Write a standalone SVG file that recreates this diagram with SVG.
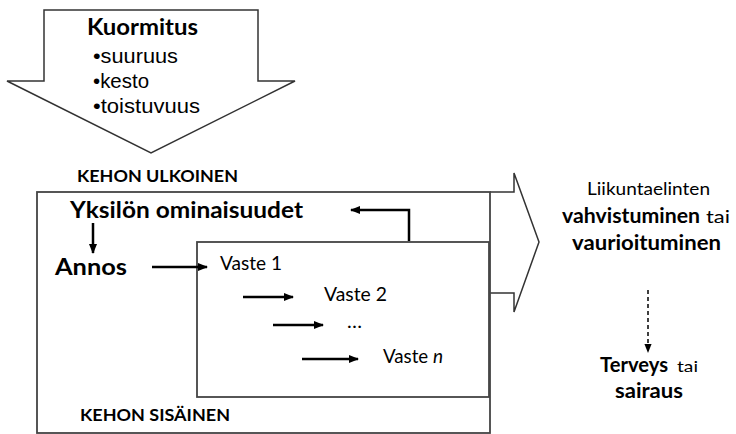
<svg xmlns="http://www.w3.org/2000/svg" width="736" height="434" viewBox="0 0 736 434">
<defs>
<marker id="ah" viewBox="0 0 10 10" refX="9" refY="5" markerWidth="4" markerHeight="4" orient="auto" markerUnits="strokeWidth">
<path d="M0,1 L10,5 L0,9 z" fill="#000"/>
</marker>
<marker id="ahs" viewBox="0 0 10 10" refX="9" refY="5" markerWidth="6" markerHeight="6" orient="auto" markerUnits="strokeWidth">
<path d="M0,1 L10,5 L0,9 z" fill="#000"/>
</marker>
</defs>
<style>
.shape{fill:#fff;stroke:#333;stroke-width:1.5}
.box{fill:none;stroke:#444;stroke-width:1.8}
.arr{fill:none;stroke:#000;stroke-width:2.5;marker-end:url(#ah)}
.b{font-family:Lato,"Open Sans",sans-serif;font-weight:bold;fill:#000}
.r{font-family:Lato,"Open Sans",sans-serif;fill:#000}
.a{font-family:"Liberation Sans",Arial,sans-serif;fill:#000;font-size:21px}
</style>
<g id="kuormitus">
<path class="shape" d="M44,10 L258,10 L258,81 L295,81 L151,153 L7,81 L44,81 Z"/>
<text class="b" x="87" y="35" font-size="22" textLength="111" lengthAdjust="spacingAndGlyphs">Kuormitus</text>
<text class="a" x="93" y="63" textLength="85" lengthAdjust="spacingAndGlyphs">•suuruus</text>
<text class="a" x="93" y="88" textLength="56" lengthAdjust="spacingAndGlyphs">•kesto</text>
<text class="a" x="93" y="113" textLength="107" lengthAdjust="spacingAndGlyphs">•toistuvuus</text>
</g>
<g id="big-arrow">
<path class="shape" d="M490,192 L514,192 L514,173 L539,242 L514,312 L514,293 L490,293"/>
</g>
<g id="kehon-ulkoinen">
<rect class="box" x="37" y="192" width="453" height="241"/>
<text class="b" x="77" y="182" font-size="17" textLength="161" lengthAdjust="spacingAndGlyphs">KEHON ULKOINEN</text>
<text class="b" x="80" y="421" font-size="17" textLength="150" lengthAdjust="spacingAndGlyphs">KEHON SISÄINEN</text>
</g>
<g id="kehon-sisainen">
<rect class="box" x="197" y="242" width="292" height="155"/>
</g>
<g id="yksilon">
<text class="b" x="70" y="218" font-size="23" textLength="233" lengthAdjust="spacingAndGlyphs">Yksilön ominaisuudet</text>
</g>
<g id="annos">
<text class="b" x="55" y="275" font-size="22" textLength="72" lengthAdjust="spacingAndGlyphs">Annos</text>
</g>
<g id="vaste1"><text class="r" x="220" y="270" font-size="19" textLength="62" lengthAdjust="spacingAndGlyphs">Vaste 1</text></g>
<g id="vaste2"><text class="r" x="324" y="301" font-size="19" textLength="63" lengthAdjust="spacingAndGlyphs">Vaste 2</text></g>
<g id="dots"><text class="r" x="347" y="328" font-size="19" textLength="15" lengthAdjust="spacingAndGlyphs">…</text></g>
<g id="vasten"><text class="r" x="383" y="363" font-size="19"><tspan textLength="50" lengthAdjust="spacingAndGlyphs">Vaste </tspan><tspan font-style="italic">n</tspan></text></g>
<g id="liikuntaelinten">
<text class="r" x="587" y="195" font-size="18" textLength="123" lengthAdjust="spacingAndGlyphs">Liikuntaelinten</text>
<text class="b" x="562" y="223" font-size="20" textLength="138" lengthAdjust="spacingAndGlyphs">vahvistuminen</text>
<text class="r" x="706" y="223" font-size="18" textLength="24" lengthAdjust="spacingAndGlyphs">tai</text>
<text class="b" x="572" y="250" font-size="20" textLength="149" lengthAdjust="spacingAndGlyphs">vaurioituminen</text>
</g>
<g id="terveys">
<text class="b" x="600" y="372" font-size="20" textLength="68" lengthAdjust="spacingAndGlyphs">Terveys</text>
<text class="r" x="677" y="372" font-size="15" textLength="21" lengthAdjust="spacingAndGlyphs">tai</text>
<text class="b" x="615" y="398" font-size="20" textLength="68" lengthAdjust="spacingAndGlyphs">sairaus</text>
</g>
<g id="connectors">
<path class="arr" d="M409,241 L409,210 L351,210"/>
<path class="arr" d="M93,223 L93,253"/>
<path class="arr" d="M152,267 L207,267"/>
<path class="arr" d="M243,297 L293,297"/>
<path class="arr" d="M273,325 L323,325"/>
<path class="arr" d="M302,359 L358,359"/>
<path d="M648,290 L648,352" fill="none" stroke="#000" stroke-width="1.5" stroke-dasharray="4,3" marker-end="url(#ahs)"/>
</g>
</svg>
